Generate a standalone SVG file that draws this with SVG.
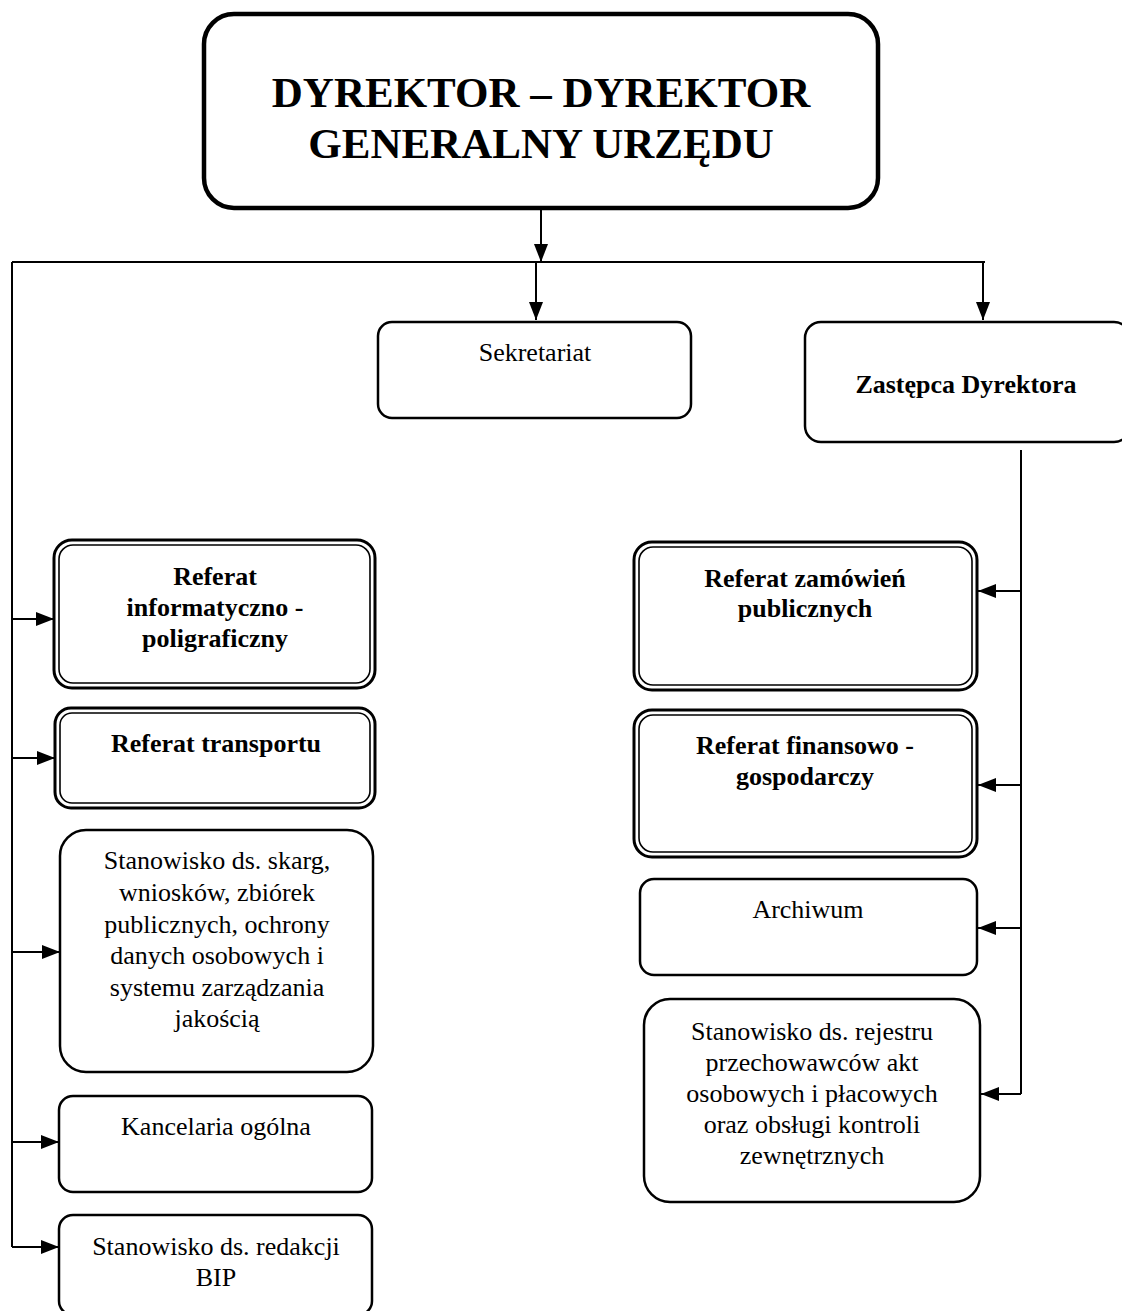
<svg xmlns="http://www.w3.org/2000/svg" width="1122" height="1311" viewBox="0 0 1122 1311">
  <style>
    .box { fill: #fff; stroke: #000; stroke-width: 2.5; }
    .outer { fill: #fff; stroke: #000; stroke-width: 3; }
    .inner { fill: none; stroke: #000; stroke-width: 1.6; }
    .t { font-family: "Liberation Serif", "Times New Roman", serif; font-size: 26px; text-anchor: middle; fill: #000; }
    .b { font-weight: bold; }
    .title { font-family: "Liberation Serif", "Times New Roman", serif; font-size: 43px; font-weight: bold; text-anchor: middle; fill: #000; }
    .line { fill: none; stroke: #000; stroke-width: 2; }
  </style>
  <defs>
    <marker id="arrow" viewBox="0 0 18 14" refX="18" refY="7" markerWidth="18" markerHeight="14" markerUnits="userSpaceOnUse" orient="auto">
      <path d="M0,0 L18,7 L0,14 Z" fill="#000"/>
    </marker>
  </defs>
  <rect width="1122" height="1311" fill="#fff"/>

  <!-- director -->
  <g id="dyrektor">
    <rect x="204" y="14" width="674" height="194" rx="30" ry="30" fill="#fff" stroke="#000" stroke-width="4.5"/>
    <text class="title" x="541" y="107">DYREKTOR – DYREKTOR</text>
    <text class="title" x="541" y="158">GENERALNY URZĘDU</text>
  </g>

  <g id="sekretariat">
    <rect class="box" x="378" y="322" width="313" height="96" rx="14"/>
    <text class="t" x="535" y="361">Sekretariat</text>
  </g>

  <g id="zastepca">
    <rect class="box" x="805" y="322" width="325" height="120" rx="16"/>
    <text class="t b" x="966" y="393">Zastępca Dyrektora</text>
  </g>

  <!-- left column -->
  <g id="ref-informatyczny">
    <rect class="outer" x="54" y="540" width="321" height="148" rx="18"/>
    <rect class="inner" x="59" y="545" width="311" height="138" rx="14"/>
    <text class="t b" x="215" y="585">Referat</text>
    <text class="t b" x="215" y="616">informatyczno -</text>
    <text class="t b" x="215" y="647">poligraficzny</text>
  </g>

  <g id="ref-transportu">
    <rect class="outer" x="55" y="708" width="320" height="100" rx="16"/>
    <rect class="inner" x="60" y="713" width="310" height="90" rx="12"/>
    <text class="t b" x="216" y="752">Referat transportu</text>
  </g>

  <g id="skargi">
    <rect class="box" x="60" y="830" width="313" height="242" rx="26"/>
    <text class="t" x="217" y="869">Stanowisko ds. skarg,</text>
    <text class="t" x="217" y="901">wniosków, zbiórek</text>
    <text class="t" x="217" y="933">publicznych, ochrony</text>
    <text class="t" x="217" y="964">danych osobowych i</text>
    <text class="t" x="217" y="996">systemu zarządzania</text>
    <text class="t" x="217" y="1027">jakością</text>
  </g>

  <g id="kancelaria">
    <rect class="box" x="59" y="1096" width="313" height="96" rx="14"/>
    <text class="t" x="216" y="1135">Kancelaria ogólna</text>
  </g>

  <g id="bip">
    <rect class="box" x="59" y="1215" width="313" height="100" rx="14"/>
    <text class="t" x="216" y="1255">Stanowisko ds. redakcji</text>
    <text class="t" x="216" y="1286">BIP</text>
  </g>

  <!-- right column -->
  <g id="ref-zamowien">
    <rect class="outer" x="634" y="542" width="343" height="148" rx="18"/>
    <rect class="inner" x="639" y="547" width="333" height="138" rx="14"/>
    <text class="t b" x="805" y="587">Referat zamówień</text>
    <text class="t b" x="805" y="617">publicznych</text>
  </g>

  <g id="ref-finansowy">
    <rect class="outer" x="634" y="710" width="343" height="147" rx="18"/>
    <rect class="inner" x="639" y="715" width="333" height="137" rx="14"/>
    <text class="t b" x="805" y="754">Referat finansowo -</text>
    <text class="t b" x="805" y="785">gospodarczy</text>
  </g>

  <g id="archiwum">
    <rect class="box" x="640" y="879" width="337" height="96" rx="14"/>
    <text class="t" x="808" y="918">Archiwum</text>
  </g>

  <g id="rejestr">
    <rect class="box" x="644" y="999" width="336" height="203" rx="26"/>
    <text class="t" x="812" y="1040">Stanowisko ds. rejestru</text>
    <text class="t" x="812" y="1071">przechowawców akt</text>
    <text class="t" x="812" y="1102">osobowych i płacowych</text>
    <text class="t" x="812" y="1133">oraz obsługi kontroli</text>
    <text class="t" x="812" y="1164">zewnętrznych</text>
  </g>

  <!-- connectors -->
  <g id="connectors">
    <path class="line" d="M541,208 L541,262" marker-end="url(#arrow)"/>
    <path class="line" d="M12,262 L985,262"/>
    <path class="line" d="M536,262 L536,320" marker-end="url(#arrow)"/>
    <path class="line" d="M983,262 L983,320" marker-end="url(#arrow)"/>
    <path class="line" d="M12,262 L12,1247"/>
    <path class="line" d="M12,619 L54,619" marker-end="url(#arrow)"/>
    <path class="line" d="M12,758 L55,758" marker-end="url(#arrow)"/>
    <path class="line" d="M12,952 L60,952" marker-end="url(#arrow)"/>
    <path class="line" d="M12,1142 L59,1142" marker-end="url(#arrow)"/>
    <path class="line" d="M12,1247 L59,1247" marker-end="url(#arrow)"/>
    <path class="line" d="M1021,450 L1021,1094"/>
    <path class="line" d="M1021,591 L978,591" marker-end="url(#arrow)"/>
    <path class="line" d="M1021,785 L978,785" marker-end="url(#arrow)"/>
    <path class="line" d="M1021,928 L978,928" marker-end="url(#arrow)"/>
    <path class="line" d="M1021,1094 L981,1094" marker-end="url(#arrow)"/>
  </g>
</svg>
